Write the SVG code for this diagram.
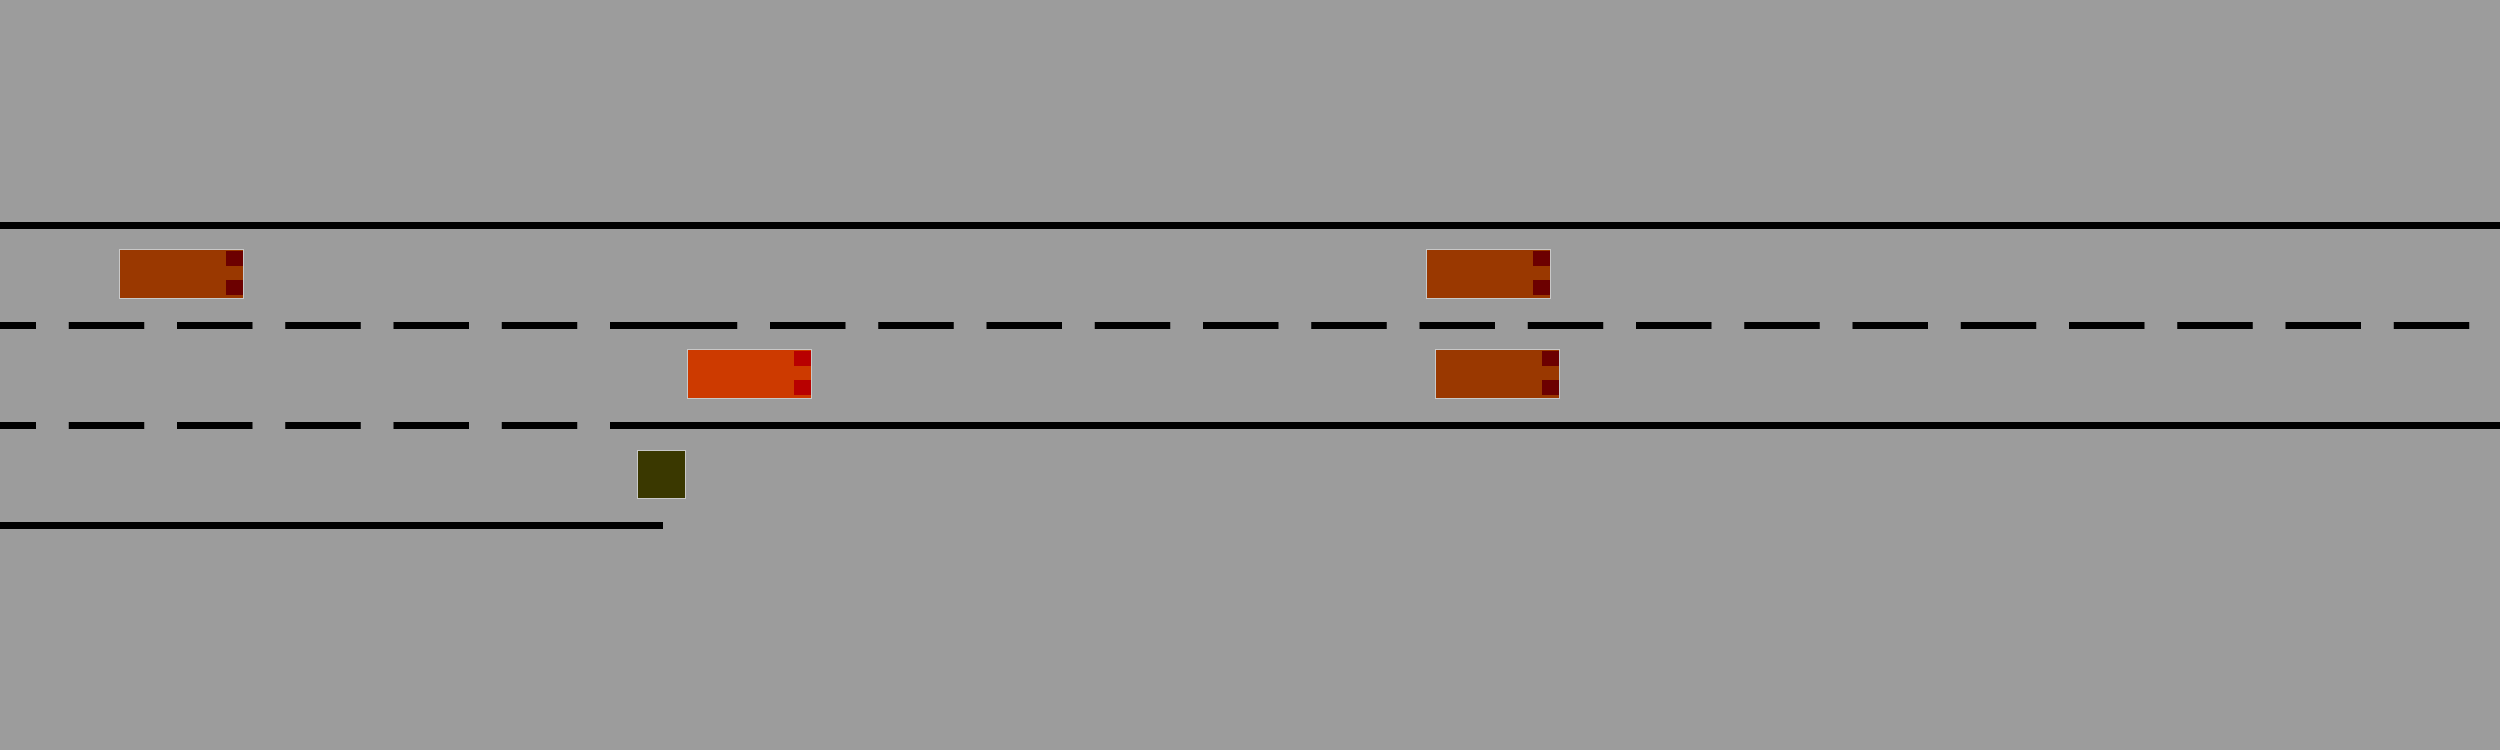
<svg xmlns="http://www.w3.org/2000/svg" width="2500" height="750" viewBox="0 0 2500 750">
<style>
.solid{fill:#000}
.dash{stroke:#000;stroke-width:7;stroke-dasharray:75.5 32.75;fill:none}
.body{stroke:#c8c8c8;stroke-width:1}
.car{fill:#9a3800}
.ego{fill:#cd3a00}
.lt{fill:#6c0000}
.elt{fill:#b80000}
.obst{fill:#3a3800}
</style>
<rect width="2500" height="750" fill="#9c9c9c"/>
<g id="road">
<rect class="solid" x="0" y="222" width="2500" height="7"/>
<line class="dash" x1="-39.5" y1="325.5" x2="686" y2="325.5"/>
<line class="dash" x1="661.75" y1="325.5" x2="2500" y2="325.5"/>
<line class="dash" x1="-39.5" y1="425.5" x2="579" y2="425.5"/>
<rect class="solid" x="610" y="422" width="1890" height="7"/>
<rect class="solid" x="0" y="522" width="663" height="7"/>
</g>
<g id="vehicle1">
<rect class="body car" x="119.5" y="249.5" width="124" height="49"/>
<rect class="lt" x="226" y="251" width="17" height="15"/>
<rect class="lt" x="226" y="280" width="17" height="15"/>
</g>
<g id="ego">
<rect class="body ego" x="687.5" y="349.5" width="124" height="49"/>
<rect class="elt" x="794" y="351" width="17" height="15"/>
<rect class="elt" x="794" y="380" width="17" height="15"/>
</g>
<g id="vehicle2">
<rect class="body car" x="1426.5" y="249.5" width="124" height="49"/>
<rect class="lt" x="1533" y="251" width="17" height="15"/>
<rect class="lt" x="1533" y="280" width="17" height="15"/>
</g>
<g id="vehicle3">
<rect class="body car" x="1435.5" y="349.5" width="124" height="49"/>
<rect class="lt" x="1542" y="351" width="17" height="15"/>
<rect class="lt" x="1542" y="380" width="17" height="15"/>
</g>
<g id="obstacle">
<rect class="body obst" x="637.5" y="450.5" width="48" height="48"/>
</g>
</svg>
